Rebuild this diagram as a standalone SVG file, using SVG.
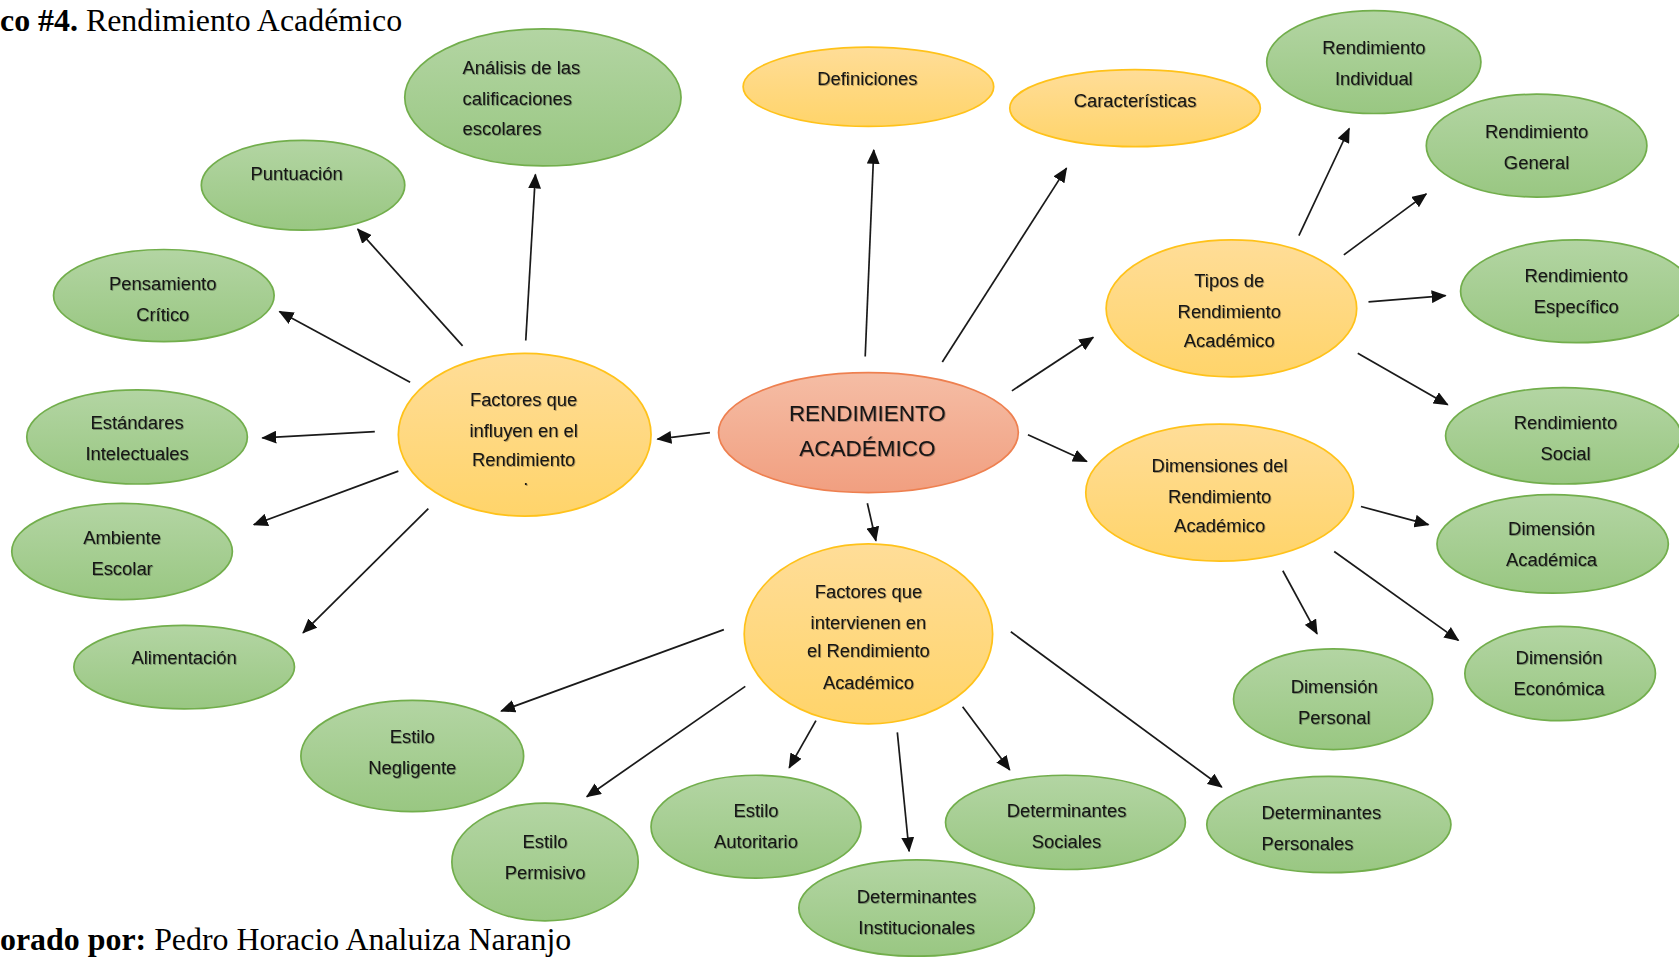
<svg xmlns="http://www.w3.org/2000/svg" width="1679" height="957" viewBox="0 0 1679 957">
<defs>
<linearGradient id="gG" x1="0" y1="0" x2="0" y2="1"><stop offset="0" stop-color="#b3d5a3"/><stop offset="1" stop-color="#99c782"/></linearGradient>
<linearGradient id="gY" x1="0" y1="0" x2="0" y2="1"><stop offset="0" stop-color="#ffdd98"/><stop offset="1" stop-color="#ffd46a"/></linearGradient>
<linearGradient id="gR" x1="0" y1="0" x2="0" y2="1"><stop offset="0" stop-color="#f5bda5"/><stop offset="1" stop-color="#f19f80"/></linearGradient>
<filter id="sh" x="-10%" y="-30%" width="120%" height="160%"><feDropShadow dx="0.8" dy="0.8" stdDeviation="0.6" flood-color="#000" flood-opacity="0.35"/></filter>
<marker id="ah" markerUnits="userSpaceOnUse" markerWidth="14" markerHeight="12" refX="13" refY="6" orient="auto"><path d="M0,0 L14,6 L0,12 z" fill="#111"/></marker>
<style>
.g{fill:url(#gG);stroke:#72ae4c;stroke-width:1.6}
.y{fill:url(#gY);stroke:#ffc21a;stroke-width:1.6}
.r{fill:url(#gR);stroke:#ee8050;stroke-width:1.6}
.t{font-family:"Liberation Sans",Arial,sans-serif;font-size:17.2px;fill:#141414;text-anchor:middle;filter:url(#sh)}
.tl{text-anchor:start}
.big{font-size:21px}
.c line{stroke:#1a1a1a;stroke-width:1.6;marker-end:url(#ah)}
.cap{font-family:"Liberation Serif","Times New Roman",serif;font-size:29.8px;fill:#000}
</style>
</defs>
<rect width="1679" height="957" fill="#fff"/>
<g transform="scale(1.0708)">
<text class="cap" x="0" y="29"><tspan font-weight="bold">co #4.</tspan> Rendimiento Académico</text>
<text class="cap" x="0" y="887"><tspan font-weight="bold">orado por:</tspan> Pedro Horacio Analuiza Naranjo</text>

<g id="connectors" class="c">
<line x1="808" y1="333" x2="816" y2="140"/>
<line x1="880" y1="338" x2="996" y2="157"/>
<line x1="945" y1="365" x2="1021" y2="315"/>
<line x1="960" y1="406" x2="1015" y2="431"/>
<line x1="810" y1="470" x2="818" y2="505"/>
<line x1="663" y1="404" x2="614" y2="410"/>
<line x1="491" y1="318" x2="500" y2="163"/>
<line x1="432" y1="323" x2="334" y2="214"/>
<line x1="383" y1="357" x2="261" y2="291"/>
<line x1="350" y1="403" x2="245" y2="409"/>
<line x1="372" y1="440" x2="237" y2="490"/>
<line x1="400" y1="475" x2="283" y2="591"/>
<line x1="1213" y1="220" x2="1260" y2="120"/>
<line x1="1255" y1="238" x2="1332" y2="181"/>
<line x1="1278" y1="282" x2="1350" y2="276"/>
<line x1="1268" y1="330" x2="1352" y2="378"/>
<line x1="1271" y1="473" x2="1334" y2="490"/>
<line x1="1246" y1="515" x2="1362" y2="598"/>
<line x1="1198" y1="533" x2="1230" y2="592"/>
<line x1="676" y1="588" x2="468" y2="664"/>
<line x1="696" y1="641" x2="548" y2="744"/>
<line x1="762" y1="673" x2="737" y2="717"/>
<line x1="838" y1="684" x2="849" y2="795"/>
<line x1="899" y1="660" x2="943" y2="719"/>
<line x1="944" y1="590" x2="1141" y2="735"/>
</g>

<g id="n-analisis"><ellipse class="g" cx="507" cy="91" rx="129" ry="64"/><text class="t tl" x="432" y="69">Análisis de las</text><text class="t tl" x="432" y="98">calificaciones</text><text class="t tl" x="432" y="126">escolares</text></g>
<g id="n-puntuacion"><ellipse class="g" cx="283" cy="173" rx="95" ry="42"/><text class="t" x="277" y="168">Puntuación</text></g>
<g id="n-pensamiento"><ellipse class="g" cx="153" cy="276" rx="103" ry="43"/><text class="t" x="152" y="271">Pensamiento</text><text class="t" x="152" y="300">Crítico</text></g>
<g id="n-estandares"><ellipse class="g" cx="128" cy="408" rx="103" ry="44"/><text class="t" x="128" y="401">Estándares</text><text class="t" x="128" y="430">Intelectuales</text></g>
<g id="n-ambiente"><ellipse class="g" cx="114" cy="515" rx="103" ry="45"/><text class="t" x="114" y="508">Ambiente</text><text class="t" x="114" y="537">Escolar</text></g>
<g id="n-alimentacion"><ellipse class="g" cx="172" cy="623" rx="103" ry="39"/><text class="t" x="172" y="620">Alimentación</text></g>
<g id="n-factores-influyen"><ellipse class="y" cx="490" cy="406" rx="118" ry="76"/><text class="t" x="489" y="379">Factores que</text><text class="t" x="489" y="408">influyen en el</text><text class="t" x="489" y="435">Rendimiento</text><text class="t" x="491" y="453" font-size="10">.</text></g>
<g id="n-central"><ellipse class="r" cx="811" cy="404" rx="140" ry="56"/><text class="t big" x="810" y="393">RENDIMIENTO</text><text class="t big" x="810" y="426">ACADÉMICO</text></g>
<g id="n-definiciones"><ellipse class="y" cx="811" cy="81" rx="117" ry="37"/><text class="t" x="810" y="79">Definiciones</text></g>
<g id="n-caracteristicas"><ellipse class="y" cx="1060" cy="101" rx="117" ry="36"/><text class="t" x="1060" y="100">Características</text></g>
<g id="n-tipos"><ellipse class="y" cx="1150" cy="288" rx="117" ry="64"/><text class="t" x="1148" y="268">Tipos de</text><text class="t" x="1148" y="297">Rendimiento</text><text class="t" x="1148" y="324">Académico</text></g>
<g id="n-dimensiones"><ellipse class="y" cx="1139" cy="460" rx="125" ry="64"/><text class="t" x="1139" y="441">Dimensiones del</text><text class="t" x="1139" y="470">Rendimiento</text><text class="t" x="1139" y="497">Académico</text></g>
<g id="n-factores-intervienen"><ellipse class="y" cx="811" cy="592" rx="116" ry="84"/><text class="t" x="811" y="558">Factores que</text><text class="t" x="811" y="587">intervienen en</text><text class="t" x="811" y="614">el Rendimiento</text><text class="t" x="811" y="643">Académico</text></g>
<g id="n-individual"><ellipse class="g" cx="1283" cy="58" rx="100" ry="48"/><text class="t" x="1283" y="50">Rendimiento</text><text class="t" x="1283" y="79">Individual</text></g>
<g id="n-general"><ellipse class="g" cx="1435" cy="136" rx="103" ry="48"/><text class="t" x="1435" y="129">Rendimiento</text><text class="t" x="1435" y="158">General</text></g>
<g id="n-especifico"><ellipse class="g" cx="1472" cy="272" rx="108" ry="48"/><text class="t" x="1472" y="263">Rendimiento</text><text class="t" x="1472" y="292">Específico</text></g>
<g id="n-social"><ellipse class="g" cx="1460" cy="407" rx="110" ry="45"/><text class="t" x="1462" y="401">Rendimiento</text><text class="t" x="1462" y="430">Social</text></g>
<g id="n-dim-academica"><ellipse class="g" cx="1450" cy="508" rx="108" ry="46"/><text class="t" x="1449" y="500">Dimensión</text><text class="t" x="1449" y="529">Académica</text></g>
<g id="n-dim-economica"><ellipse class="g" cx="1457" cy="629" rx="89" ry="44"/><text class="t" x="1456" y="620">Dimensión</text><text class="t" x="1456" y="649">Económica</text></g>
<g id="n-dim-personal"><ellipse class="g" cx="1245" cy="653" rx="93" ry="47"/><text class="t" x="1246" y="647">Dimensión</text><text class="t" x="1246" y="676">Personal</text></g>
<g id="n-det-personales"><ellipse class="g" cx="1241" cy="770" rx="114" ry="45"/><text class="t tl" x="1178" y="765">Determinantes</text><text class="t tl" x="1178" y="794">Personales</text></g>
<g id="n-det-sociales"><ellipse class="g" cx="995" cy="768" rx="112" ry="44"/><text class="t" x="996" y="763">Determinantes</text><text class="t" x="996" y="792">Sociales</text></g>
<g id="n-det-institucionales"><ellipse class="g" cx="856" cy="848" rx="110" ry="45"/><text class="t" x="856" y="843">Determinantes</text><text class="t" x="856" y="872">Institucionales</text></g>
<g id="n-autoritario"><ellipse class="g" cx="706" cy="772" rx="98" ry="48"/><text class="t" x="706" y="763">Estilo</text><text class="t" x="706" y="792">Autoritario</text></g>
<g id="n-permisivo"><ellipse class="g" cx="509" cy="805" rx="87" ry="55"/><text class="t" x="509" y="792">Estilo</text><text class="t" x="509" y="821">Permisivo</text></g>
<g id="n-negligente"><ellipse class="g" cx="385" cy="706" rx="104" ry="52"/><text class="t" x="385" y="694">Estilo</text><text class="t" x="385" y="723">Negligente</text></g>
</g>
</svg>
